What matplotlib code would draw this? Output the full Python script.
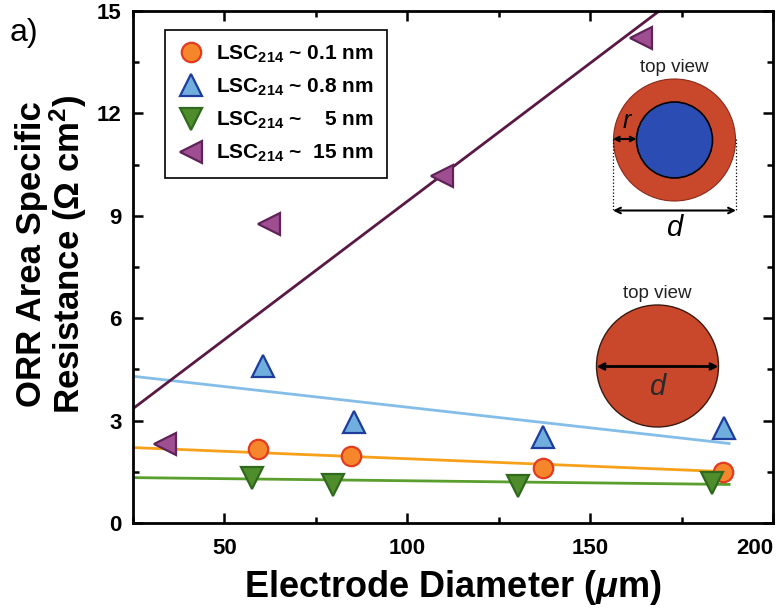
import matplotlib
matplotlib.use('Agg')
import matplotlib.pyplot as plt
from matplotlib.patches import Circle
from matplotlib.ticker import MultipleLocator

plt.rcParams['font.family'] = ['Liberation Sans', 'DejaVu Sans']
plt.rcParams['mathtext.fontset'] = 'custom'
plt.rcParams['mathtext.rm'] = 'Liberation Sans:bold'
plt.rcParams['mathtext.it'] = 'Liberation Sans:bold:italic'
plt.rcParams['mathtext.bf'] = 'Liberation Sans:bold'
plt.rcParams['mathtext.default'] = 'rm'

# DATA=====================================================
labels = [r'LSC$_{214}$ ~ 0.1 nm',
          r'LSC$_{214}$ ~ 0.8 nm',
          r'LSC$_{214}$ ~    5 nm',
          r'LSC$_{214}$ ~  15 nm']

x_01 = [59.2, 84.5, 137.1, 186.3]
y_01 = [2.16, 1.95, 1.62, 1.50]

x_08 = [60.5, 85.4, 137.1, 186.5]
y_08 = [4.59, 2.95, 2.53, 2.78]

x_5 = [57.5, 79.8, 130.4, 183.3]
y_5 = [1.33, 1.10, 1.08, 1.18]

x_15 = [33.9, 62.1, 109.4, 164.0]
y_15 = [2.31, 8.76, 10.17, 14.2]

# linear fits, value at fit_x[0] and fit_x[1]
fit_x = [25, 188]
fit_01 = [2.21, 1.50]
fit_08 = [4.30, 2.33]
fit_5 = [1.33, 1.13]
fit_15 = [3.35, 16.55]

x_ticks = [50, 100, 150, 200]
y_ticks = [0, 3, 6, 9, 12, 15]

#STYLE====================================================
series = [
    (x_01, y_01, fit_01, 'o', '#F5862C', '#E23B1F', '#F7A11A'),
    (x_08, y_08, fit_08, '^', '#6FAEDD', '#1E3C9C', '#84BDE8'),
    (x_5, y_5, fit_5, 'v', '#4E8C2C', '#2F6A1C', '#5A9E2E'),
    (x_15, y_15, fit_15, '<', '#A04E92', '#5E2458', '#5A1845'),
]

fig = plt.figure(figsize=(7.82, 6.13), dpi=100)
ax = fig.add_axes([0.170, 0.1468, 0.8185, 0.8352])

handles = []
for (xs, ys, fit, mk, face, edge, lc), lab in zip(series, labels):
    ax.plot(fit_x, fit, color=lc, lw=2, zorder=2)
    h, = ax.plot(xs, ys, ls='none', marker=mk, ms=14 if mk == 'o' else 15.5,
                 mfc=face, mec=edge, mew=1.6, zorder=3, label=lab)
    handles.append(h)

ax.set_xlim(25, 200)
ax.set_ylim(0, 15)
ax.set_xticks(x_ticks)
ax.set_yticks(y_ticks)
ax.xaxis.set_minor_locator(MultipleLocator(25))
ax.yaxis.set_minor_locator(MultipleLocator(1.5))
ax.tick_params(which='both', direction='in', top=True, right=True, width=1.8)
ax.tick_params(which='major', length=7, labelsize=16)
ax.tick_params(axis='x', which='major', pad=11)
ax.tick_params(axis='y', which='major', pad=8)
ax.tick_params(which='minor', length=4)
for s in ax.spines.values():
    s.set_linewidth(2)

for t in ax.xaxis.get_major_ticks() + ax.yaxis.get_major_ticks():
    t.label1.set_fontweight('bold')
# last x label kept inside the figure, as in the original
ax.xaxis.get_major_ticks()[-1].label1.set_horizontalalignment('right')

ax.set_xlabel(r'Electrode Diameter ($\it{\mu}$m)', fontsize=26, fontweight='bold', labelpad=6)
ax.set_ylabel('ORR Area Specific\nResistance (Ω cm$^2$)', fontsize=25,
              fontweight='bold', linespacing=1.0)
ax.yaxis.set_label_coords(-0.068, 0.525)

leg = ax.legend(handles=handles, loc='upper left', bbox_to_anchor=(0.05, 0.963),
                borderaxespad=0, fancybox=False, edgecolor='black', framealpha=1,
                prop={'weight': 'bold', 'size': 15}, handletextpad=0.6,
                labelspacing=0.57, borderpad=0.65, handlelength=1.2)
leg.get_frame().set_linewidth(1.2)

fig.text(10 / 782, 1 - 33 / 613, 'a)', fontsize=23, va='center', ha='left')

#INSETS (pixel coords overlay)==============================
ov = fig.add_axes([0, 0, 1, 1], facecolor='none')
ov.set_xlim(0, 782)
ov.set_ylim(613, 0)
ov.axis('off')

# core-shell electrode
ov.text(674, 67, 'top view', fontsize=13.5, ha='center', va='center', color='#222222')
ov.add_patch(Circle((674.5, 140), 61, fc='#C9472B', ec='#8A2A18', lw=0.8))
ov.add_patch(Circle((674.5, 140), 38, fc='#2B4DB3', ec='black', lw=1.2))
ov.annotate('', xy=(613, 139), xytext=(636.5, 139),
            arrowprops=dict(arrowstyle='<->', color='black', lw=1.5, shrinkA=0, shrinkB=0,
                            mutation_scale=8))
ov.text(627, 121, 'r', fontsize=18, style='italic', ha='center', va='center')
for xx in (613, 736):
    ov.plot([xx, xx], [139, 211], color='black', lw=0.9, ls=':')
ov.annotate('', xy=(613, 210.5), xytext=(736, 210.5),
            arrowprops=dict(arrowstyle='<->', color='black', lw=1.5, shrinkA=0, shrinkB=0,
                            mutation_scale=10))
ov.text(674, 228, 'd', fontsize=21, style='italic', ha='center', va='center')

# single electrode
ov.text(657, 293, 'top view', fontsize=13.5, ha='center', va='center', color='#222222')
ov.add_patch(Circle((657.5, 366), 61, fc='#C9472B', ec='#3A1A10', lw=1.0))
ov.annotate('', xy=(596.5, 366.5), xytext=(718.5, 366.5),
            arrowprops=dict(arrowstyle='<->', color='black', lw=2, shrinkA=0, shrinkB=0,
                            mutation_scale=10))
ov.text(657, 387, 'd', fontsize=21, style='italic', ha='center', va='center', color='#2a2a2a')

fig.savefig('out.png', dpi=100)
